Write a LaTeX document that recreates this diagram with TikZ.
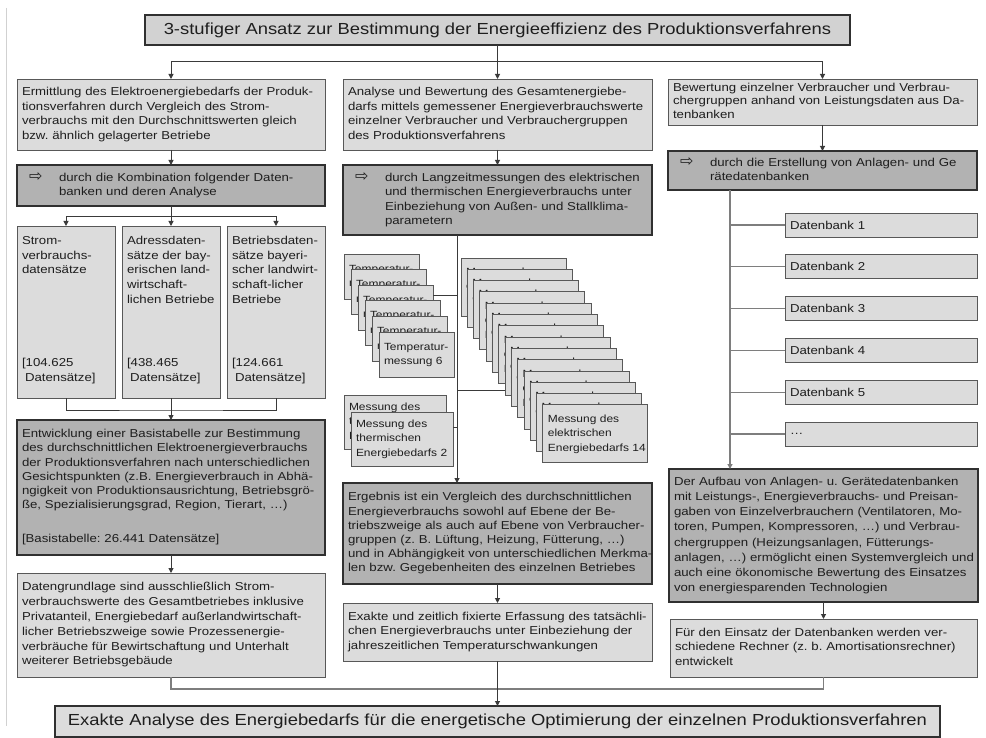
\documentclass[tikz,border=0pt]{standalone}
\usepackage{fontspec}
\setmainfont{Liberation Sans}[FakeStretch=1.15]
\newfontfamily\symfont{DejaVu Sans}
\usetikzlibrary{arrows.meta,calc}
\frenchspacing
\definecolor{lightfill}{HTML}{DCDCDC}
\definecolor{darkfill}{HTML}{B2B2B2}
\definecolor{titlefill}{HTML}{D2D2D2}
\definecolor{lightline}{HTML}{585858}
\definecolor{darkline}{HTML}{303030}
\definecolor{textcol}{HTML}{1E1E1E}
\definecolor{conncol}{HTML}{3A3A3A}
\definecolor{rconncol}{HTML}{7E7E7E}
\newcommand\bsk[1]{\fontsize{11.5}{#1}\selectfont}
\newcommand\stk{\fontsize{10.4}{14.6}\selectfont}
\newcommand\ttlfont{\fontsize{16}{18}\selectfont}
\newcommand\rows[1]{\begin{tabular}[t]{@{}l@{}}#1\end{tabular}}
\newcommand\arrowrows[1]{\makebox[37pt][l]{\hspace{7pt}{\symfont\fontsize{16}{14}\selectfont ⇨}}\rows{#1}}
\newcommand\bx[7][]{%
  \pgfmathsetmacro\tw{#5-10}%
  \node[box,#1,minimum width=#5pt,minimum height=#6pt,text width=\tw pt,align=left] (#2) at (#3,#4) {#7};}
\newcommand\cbx[5]{%
  \node[box,inner sep=0pt,minimum width=98pt,minimum height=172pt] (#1) at (#2,#3)
  {\parbox[c][172pt][t]{98pt}{\vspace*{8pt}\hspace*{5pt}\rows{#4}\par\vfill
   \hspace*{5pt}\begin{tabular}[b]{@{}l@{}}#5\end{tabular}\par\vspace*{12pt}}};}
\tikzset{
  box/.style={draw=lightline,fill=lightfill,line width=0.9pt,anchor=north west,outer sep=0pt,
    inner xsep=5pt,inner ysep=2pt,text=textcol,font=\bsk{14.8}},
  dark/.style={fill=darkfill,draw=darkline,line width=1.5pt},
  stack/.style={font=\stk},
  conn/.style={draw=conncol,line width=1pt},
  rconn/.style={draw=rconncol,line width=1.2pt},
  arr/.style={-{Triangle[length=5pt,width=5pt]}}
}
\begin{document}
\begin{tikzpicture}[x=1pt,y=-1pt]
\useasboundingbox (0,0) rectangle (986,738);
\fill[white] (0,0) rectangle (986,738);
\draw[draw=black!18,line width=1pt] (6,8) -- (6,726);

% title
\node[box,fill=titlefill,draw=darkline,line width=1.2pt,minimum width=705pt,minimum height=30pt,font=\ttlfont,inner sep=0pt] (title) at (145,15) {3-stufiger Ansatz zur Bestimmung der Energieeffizienz des Produktionsverfahrens};

% left column
\bx{L1}{17}{79}{308}{71}{\rows{Ermittlung des Elektroenergiebedarfs der Produk-\\tionsverfahren durch Vergleich des Strom-\\verbrauchs mit den Durchschnittswerten gleich\\bzw. ähnlich gelagerter Betriebe}}
\bx[dark]{L2}{17}{165}{308}{41}{\arrowrows{durch die Kombination folgender Daten-\\banken und deren Analyse}}
\cbx{A}{17}{226}{Strom-\\verbrauchs-\\datensätze}{[104.625\\\hspace*{3pt}Datensätze]}
\cbx{B}{122}{226}{Adressdaten-\\sätze der bay-\\erischen land-\\wirtschaft-\\lichen Betriebe}{[438.465\\\hspace*{3pt}Datensätze]}
\cbx{C}{227}{226}{Betriebsdaten-\\sätze bayeri-\\scher landwirt-\\schaft-licher\\Betriebe}{[124.661\\\hspace*{3pt}Datensätze]}
\bx[dark,font=\bsk{14.2}]{L3}{17}{420}{308}{135}{\rows{Entwicklung einer Basistabelle zur Bestimmung\\des durchschnittlichen Elektroenergieverbrauchs\\der Produktionsverfahren nach unterschiedlichen\\Gesichtspunkten (z.B. Energieverbrauch in Abhä-\\ngigkeit von Produktionsausrichtung, Betriebsgrö-\\ße, Spezialisierungsgrad, Region, Tierart, \ldots)\\[20pt][Basistabelle: 26.441 Datensätze]}}
\bx{L4}{17}{573}{308}{104}{\rows{Datengrundlage sind ausschließlich Strom-\\verbrauchswerte des Gesamtbetriebes inklusive\\Privatanteil, Energiebedarf außerlandwirtschaft-\\licher Betriebszweige sowie Prozessenergie-\\verbräuche für Bewirtschaftung und Unterhalt\\weiterer Betriebsgebäude}}

% middle column
\bx{M1}{343}{79}{309}{71}{\rows{Analyse und Bewertung des Gesamtenergiebe-\\darfs mittels gemessener Energieverbrauchswerte\\einzelner Verbraucher und Verbrauchergruppen\\des Produktionsverfahrens}}
\bx[dark,font=\bsk{14.4}]{M2}{343}{165}{309}{70}{\arrowrows{durch Langzeitmessungen des elektrischen\\und thermischen Energieverbrauchs unter\\Einbeziehung von Außen- und Stallklima-\\parametern}}
\foreach \k in {1,2,3,4,5,6}{
  \pgfmathsetmacro\ex{344+7*(\k-1)}\pgfmathsetmacro\ey{254+15.6*(\k-1)}
  \bx[stack]{t\k}{\ex}{\ey}{75}{45}{\rows{Temperatur-\\messung \k}}
}
\foreach \k in {1,2,3,4,5,6,7,8,9,10,11,12,13,14}{
  \pgfmathsetmacro\ex{461+6.3*(\k-1)}\pgfmathsetmacro\ey{258+11.3*(\k-1)}
  \bx[stack]{e\k}{\ex}{\ey}{105}{58}{\rows{Messung des\\elektrischen\\Energiebedarfs \k}}
}
\bx[stack]{h1}{344}{395}{102}{54}{\rows{Messung des\\thermischen\\Energiebedarfs 1}}
\bx[stack]{h2}{351}{412}{102}{54}{\rows{Messung des\\thermischen\\Energiebedarfs 2}}
\bx[dark,font=\bsk{14.2}]{M3}{343}{483}{309}{101}{\rows{Ergebnis ist ein Vergleich des durchschnittlichen\\Energieverbrauchs sowohl auf Ebene der Be-\\triebszweige als auch auf Ebene von Verbraucher-\\gruppen (z. B. Lüftung, Heizung, Fütterung, \ldots)\\und in Abhängigkeit von unterschiedlichen Merkma-\\len bzw. Gegebenheiten des einzelnen Betriebes}}
\bx{M5}{343}{603}{309}{58}{\rows{Exakte und zeitlich fixierte Erfassung des tatsächli-\\chen Energieverbrauchs unter Einbeziehung der\\jahreszeitlichen Temperaturschwankungen}}

% right column
\bx[font=\bsk{13.6}]{R1}{668}{79}{309}{46}{\rows{Bewertung einzelner Verbraucher und Verbrau-\\chergruppen anhand von Leistungsdaten aus Da-\\tenbanken}}
\bx[dark,font=\bsk{14}]{R2}{668}{151}{309}{39}{\arrowrows{durch die Erstellung von Anlagen- und Ge\\rätedatenbanken}}
\foreach \k in {1,2,3,4,5}{
  \pgfmathsetmacro\ey{213+41.8*(\k-1)}
  \bx{d\k}{785}{\ey}{192}{24}{Datenbank \k}
}
\bx{d6}{785}{422}{192}{24}{\ldots}
\bx[dark,font=\bsk{15.2}]{R3}{669}{469}{309}{133}{\rows{Der Aufbau von Anlagen- u. Gerätedatenbanken\\mit Leistungs-, Energieverbrauchs- und Preisan-\\gaben von Einzelverbrauchern (Ventilatoren, Mo-\\toren, Pumpen, Kompressoren, \ldots) und Verbrau-\\chergruppen (Heizungsanlagen, Fütterungs-\\anlagen, \ldots) ermöglicht einen Systemvergleich und\\auch eine ökonomische Bewertung des Einsatzes\\von energiesparenden Technologien}}
\bx{R4}{670}{619}{307}{58}{\rows{Für den Einsatz der Datenbanken werden ver-\\schiedene Rechner (z. b. Amortisationsrechner)\\entwickelt}}

% final
\node[box,draw=darkline,line width=1.2pt,minimum width=885pt,minimum height=31pt,font=\ttlfont,inner sep=0pt] (fin) at (55,706) {Exakte Analyse des Energiebedarfs für die energetische Optimierung der einzelnen Produktionsverfahren};

% connectors top
\coordinate (jT) at (497.5,62);
\draw[conn] (title.south) -- (jT);
\draw[conn,arr] (jT) -| (L1.north);
\draw[conn,arr] (jT) -- (M1.north);
\draw[conn,arr] (jT) -| (R1.north);

% left
\draw[conn,arr] (L1.south) -- (L2.north);
\coordinate (jL) at (171,217);
\draw[conn] (L2.south) -- (jL);
\draw[conn,arr] (jL) -| (A.north);
\draw[conn,arr] (jL) -- (B.north);
\draw[conn,arr] (jL) -| (C.north);
\coordinate (jL2) at (171,410);
\draw[conn] (A.south) |- (jL2) -| (C.south);
\draw[conn] (B.south) -- (jL2);
\draw[conn,arr] (jL2) -- (L3.north);
\draw[conn,arr] (L3.south) -- (L4.north);

% middle
\draw[conn,arr] (M1.south) -- (M2.north);
\coordinate (mv) at (457,0);
\draw[conn,arr] (M2.south -| mv) -- (M3.north -| mv);
\coordinate (tb) at ([yshift=-10pt]t3.north east);
\draw[conn] (tb) -- (tb -| mv);
\coordinate (eb) at ([yshift=-53pt]e8.north west);
\draw[conn] (eb) -- (eb -| mv);
\coordinate (hb) at ([yshift=-15pt]h2.north east);
\draw[conn] (hb) -- (hb -| mv);
\draw[conn,arr] (M3.south) -- (M5.north);

% right
\draw[conn,arr] (R1.south) -- (R2.north);
\coordinate (rv) at (730,0);
\draw[rconn,arr] (R2.south -| rv) -- (R3.north -| rv);
\foreach \k in {1,2,3,4,5,6}{\draw[rconn] (d\k.west) -- (d\k.west -| rv);}
\draw[conn,arr] (R3.south) -- (R4.north);

% bottom
\coordinate (jB) at (497.5,689);
\draw[rconn] (L4.south) |- (jB) -| (R4.south);
\draw[conn] (M5.south) -- (jB);
\draw[conn,arr] (jB) -- (fin.north);
\end{tikzpicture}
\end{document}
